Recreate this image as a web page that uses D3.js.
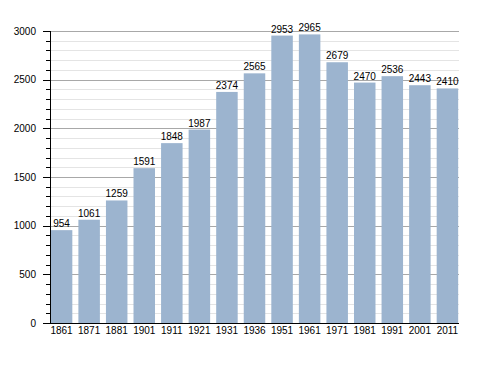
<!DOCTYPE html>
<html>
<head>
<meta charset="utf-8">
<script src="https://cdn.jsdelivr.net/npm/d3@7"></script>
<style>
  body { margin: 0; background: #fff; }
  text { font-family: "Liberation Sans", Arial, sans-serif; font-size: 10px; fill: #000; }
</style>
</head>
<body>
<div id="chart"></div>
<script>
// Census years and population
const years = ["1861", "1871", "1881", "1901", "1911", "1921", "1931", "1936", "1951", "1961", "1971", "1981", "1991", "2001", "2011"];
const population = [954, 1061, 1259, 1591, 1848, 1987, 2374, 2565, 2953, 2965, 2679, 2470, 2536, 2443, 2410];
const majorTicks = [0, 500, 1000, 1500, 2000, 2500, 3000];

const width = 488, height = 373;
const plot = { left: 50, right: 459, top: 31, bottom: 323 };

const svg = d3.select("#chart")
    .append("svg")
    .attr("width", width)
    .attr("height", height);

const x = d3.scaleBand()
    .domain(years)
    .range([plot.left, plot.right])
    .paddingInner(0.22)
    .paddingOuter(0.03);

const y = d3.scaleLinear()
    .domain([0, 3000])
    .range([plot.bottom, plot.top]);

// minor grid every 100
const minor = d3.range(100, 3000, 100).filter(v => v % 500 !== 0);
svg.append("g").selectAll("line")
    .data(minor)
    .enter().append("line")
    .attr("x1", plot.left).attr("x2", plot.right)
    .attr("y1", d => Math.round(y(d)) + 0.5)
    .attr("y2", d => Math.round(y(d)) + 0.5)
    .attr("stroke", "#e4e4e4");

// major grid
svg.append("g").selectAll("line")
    .data(majorTicks.filter(d => d > 0))
    .enter().append("line")
    .attr("x1", plot.left).attr("x2", plot.right)
    .attr("y1", d => Math.round(y(d)) + 0.5)
    .attr("y2", d => Math.round(y(d)) + 0.5)
    .attr("stroke", "#a8a8a8");

// bars
svg.append("g").selectAll("rect")
    .data(years)
    .enter().append("rect")
    .attr("x", d => x(d))
    .attr("width", x.bandwidth())
    .attr("y", (d, i) => y(population[i]))
    .attr("height", (d, i) => plot.bottom - y(population[i]))
    .attr("fill", "#9cb4cf");

// value labels
svg.append("g").selectAll("text")
    .data(years)
    .enter().append("text")
    .attr("x", d => x(d) + x.bandwidth() / 2)
    .attr("y", (d, i) => y(population[i]) - 3)
    .attr("text-anchor", "middle")
    .text((d, i) => population[i]);

// y axis with minor ticks
svg.append("g")
    .selectAll("line")
    .data(d3.range(0, 3001, 100))
    .enter().append("line")
    .attr("x1", d => d % 500 === 0 ? plot.left - 7 : plot.left - 4)
    .attr("x2", plot.left)
    .attr("y1", d => Math.round(y(d)) + 0.5)
    .attr("y2", d => Math.round(y(d)) + 0.5)
    .attr("stroke", "#000");

svg.append("line")
    .attr("x1", plot.left + 0.5).attr("x2", plot.left + 0.5)
    .attr("y1", y(3000)).attr("y2", plot.bottom + 1)
    .attr("stroke", "#000");

svg.append("g").selectAll("text")
    .data(majorTicks)
    .enter().append("text")
    .attr("x", 36)
    .attr("y", d => y(d) + 3.5)
    .attr("text-anchor", "end")
    .text(d => d);

// x axis
svg.append("line")
    .attr("x1", plot.left).attr("x2", plot.right)
    .attr("y1", plot.bottom + 0.5).attr("y2", plot.bottom + 0.5)
    .attr("stroke", "#000");

svg.append("g").selectAll("text")
    .data(years)
    .enter().append("text")
    .attr("x", d => x(d) + x.bandwidth() / 2)
    .attr("y", plot.bottom + 11)
    .attr("text-anchor", "middle")
    .text(d => d);
</script>
</body>
</html>
